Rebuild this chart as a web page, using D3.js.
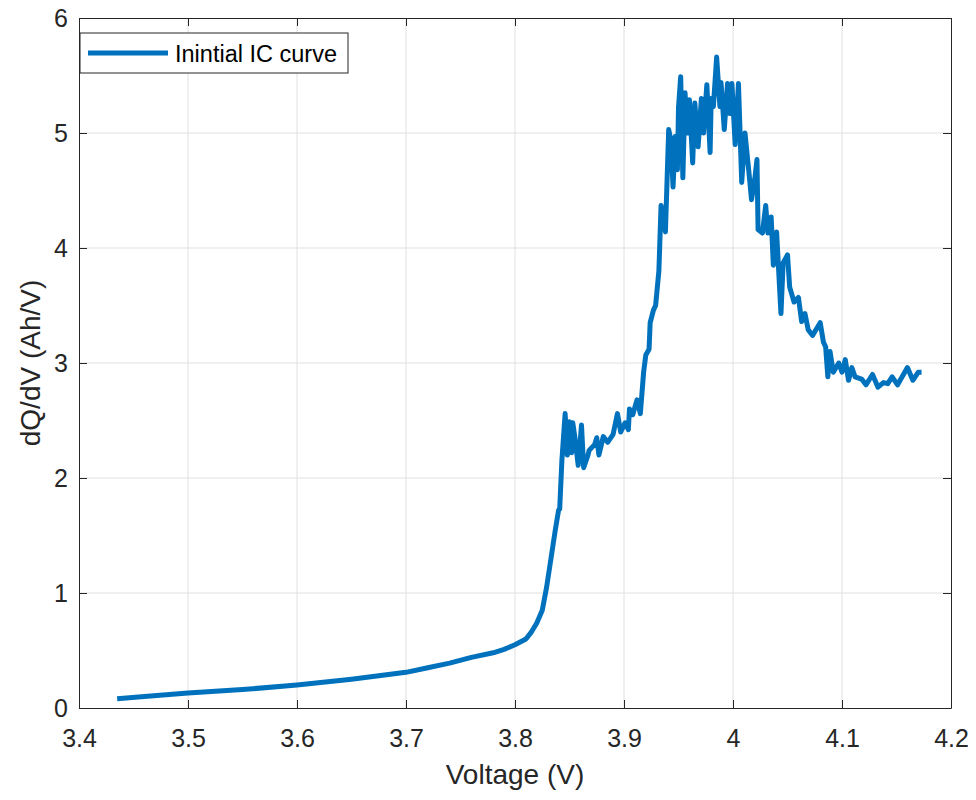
<!DOCTYPE html>
<html>
<head>
<meta charset="utf-8">
<script src="https://cdn.jsdelivr.net/npm/d3@7"></script>
<style>
  body { margin: 0; background: #fff; }
  svg { font-family: "Liberation Sans", Arial, sans-serif; }
</style>
</head>
<body>
<div id="chart"></div>
<script>
// incremental capacity curve
const voltage = [
  3.435, 3.46, 3.50, 3.55, 3.60, 3.65, 3.70, 3.72, 3.74, 3.76, 3.78, 3.79, 3.80, 3.81,
  3.815, 3.82, 3.825, 3.829, 3.833, 3.837, 3.840, 3.841, 3.843, 3.846, 3.848, 3.850,
  3.852, 3.853, 3.855, 3.858, 3.861, 3.863, 3.867, 3.868, 3.873, 3.875, 3.877, 3.881,
  3.885, 3.890, 3.894, 3.897, 3.901, 3.904, 3.905, 3.908, 3.912, 3.915, 3.918, 3.920,
  3.923, 3.924, 3.927, 3.929, 3.932, 3.934, 3.938, 3.941, 3.943, 3.945, 3.947, 3.949,
  3.950, 3.952, 3.954, 3.956, 3.958, 3.960, 3.963, 3.965, 3.968, 3.971, 3.973, 3.976,
  3.979, 3.980, 3.982, 3.985, 3.988, 3.989, 3.992, 3.995, 3.997, 3.999, 4.002, 4.005,
  4.008, 4.011, 4.015, 4.017, 4.020, 4.022, 4.023, 4.027, 4.030, 4.032, 4.035, 4.037,
  4.040, 4.044, 4.046, 4.050, 4.052, 4.056, 4.060, 4.063, 4.066, 4.069, 4.073, 4.080,
  4.083, 4.085, 4.087, 4.089, 4.092, 4.097, 4.100, 4.103, 4.106, 4.109, 4.112, 4.118,
  4.122, 4.128, 4.133, 4.138, 4.142, 4.146, 4.151, 4.160, 4.165, 4.170, 4.173
];
const dQdV = [
  0.08, 0.10, 0.13, 0.16, 0.20, 0.25, 0.31, 0.35, 0.39, 0.44, 0.48, 0.51, 0.55, 0.60,
  0.66, 0.74, 0.85, 1.05, 1.30, 1.55, 1.72, 1.73, 2.15, 2.56, 2.20, 2.49,
  2.22, 2.48, 2.35, 2.11, 2.46, 2.09, 2.20, 2.24, 2.29, 2.35, 2.20, 2.36,
  2.31, 2.38, 2.56, 2.40, 2.48, 2.42, 2.60, 2.55, 2.68, 2.56, 2.92, 3.07,
  3.12, 3.35, 3.46, 3.50, 3.80, 4.37, 4.14, 5.03, 4.94, 4.53, 4.97, 4.68,
  5.22, 5.49, 4.61, 5.35, 5.00, 5.29, 4.74, 5.26, 4.88, 5.30, 5.00, 5.42,
  4.83, 5.30, 5.23, 5.66, 5.23, 5.44, 5.03, 5.43, 5.17, 5.43, 4.90, 5.43,
  4.57, 5.00, 4.62, 4.42, 4.60, 4.77, 4.16, 4.13, 4.37, 4.13, 4.27, 3.85,
  4.14, 3.43, 3.87, 3.94, 3.66, 3.53, 3.57, 3.36, 3.43, 3.29, 3.24, 3.35,
  3.18, 3.14, 2.88, 3.10, 2.92, 3.00, 2.92, 3.03, 2.85, 2.96, 2.88, 2.86,
  2.81, 2.90, 2.79, 2.83, 2.82, 2.88, 2.81, 2.96, 2.85, 2.92, 2.92
];
const xTicks = [3.4, 3.5, 3.6, 3.7, 3.8, 3.9, 4.0, 4.1, 4.2];
const yTicks = [0, 1, 2, 3, 4, 5, 6];
const seriesName = "Inintial IC curve";

const W = 976, H = 800;
const margin = {top: 18, right: 25, bottom: 92, left: 79};
const width = W - margin.left - margin.right;
const height = H - margin.top - margin.bottom;
const ink = "#262626";
const blue = "#0072BD";

const data = voltage.map((v, i) => ({v: v, q: dQdV[i]}));

const svg = d3.select("#chart").append("svg")
  .attr("width", W)
  .attr("height", H);

const g = svg.append("g")
  .attr("transform", `translate(${margin.left},${margin.top})`);

const x = d3.scaleLinear().domain([3.4, 4.2]).range([0, width]);
const y = d3.scaleLinear().domain([0, 6]).range([height, 0]);

// grid
g.append("g").selectAll("line")
  .data(xTicks.slice(1, -1))
  .join("line")
    .attr("x1", d => x(d)).attr("x2", d => x(d))
    .attr("y1", 0).attr("y2", height)
    .attr("stroke", "#e0e0e0").attr("stroke-width", 1);
g.append("g").selectAll("line")
  .data(yTicks.slice(1, -1))
  .join("line")
    .attr("x1", 0).attr("x2", width)
    .attr("y1", d => y(d)).attr("y2", d => y(d))
    .attr("stroke", "#e0e0e0").attr("stroke-width", 1);

// axes, MATLAB style box with inward ticks
const fmt = d => String(+d.toFixed(1));
const styleAxis = (sel, showText) => {
  sel.select(".domain").attr("stroke", ink).attr("stroke-width", 1);
  sel.selectAll(".tick line").attr("stroke", ink);
  sel.selectAll(".tick text")
    .attr("fill", ink)
    .style("font-size", "25px")
    .style("display", showText ? null : "none");
};

g.append("g")
  .attr("transform", `translate(0,${height})`)
  .call(d3.axisBottom(x).tickValues(xTicks).tickFormat(fmt).tickSizeInner(-8).tickSizeOuter(0).tickPadding(21))
  .call(s => styleAxis(s, true));
g.append("g")
  .call(d3.axisTop(x).tickValues(xTicks).tickSizeInner(-8).tickSizeOuter(0))
  .call(s => styleAxis(s, false));
g.append("g")
  .call(d3.axisLeft(y).tickValues(yTicks).tickFormat(fmt).tickSizeInner(-8).tickSizeOuter(0).tickPadding(11))
  .call(s => styleAxis(s, true));
g.append("g")
  .attr("transform", `translate(${width},0)`)
  .call(d3.axisRight(y).tickValues(yTicks).tickSizeInner(-8).tickSizeOuter(0))
  .call(s => styleAxis(s, false));

// curve
g.append("path")
  .datum(data)
  .attr("fill", "none")
  .attr("stroke", blue)
  .attr("stroke-width", 5)
  .attr("stroke-linejoin", "round")
  .attr("d", d3.line().x(d => x(d.v)).y(d => y(d.q)));

// axis labels
svg.append("text")
  .attr("x", margin.left + width / 2)
  .attr("y", 784)
  .attr("text-anchor", "middle")
  .attr("fill", ink)
  .style("font-size", "28px")
  .text("Voltage (V)");
svg.append("text")
  .attr("transform", `translate(40,${margin.top + height / 2}) rotate(-90)`)
  .attr("text-anchor", "middle")
  .attr("fill", ink)
  .style("font-size", "28px")
  .text("dQ/dV (Ah/V)");

// legend
const lg = svg.append("g").attr("transform", "translate(80,33)");
lg.append("rect")
  .attr("width", 268).attr("height", 40)
  .attr("fill", "#fff").attr("stroke", ink).attr("stroke-width", 1);
lg.append("line")
  .attr("x1", 8).attr("x2", 88).attr("y1", 20).attr("y2", 20)
  .attr("stroke", blue).attr("stroke-width", 5);
lg.append("text")
  .attr("x", 95).attr("y", 28.5)
  .attr("fill", "#000")
  .style("font-size", "23.5px")
  .text(seriesName);
</script>
</body>
</html>
